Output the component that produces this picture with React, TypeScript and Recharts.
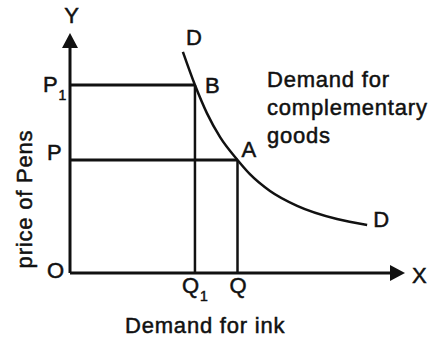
import { LineChart, Line, XAxis, YAxis, ReferenceLine, ReferenceDot } from "recharts";

// demand curve DD for ink vs price of pens
const demandX = [3.37, 3.73, 4.09, 4.48, 5.0, 5.37, 5.97, 6.78, 7.97, 8.87];
const demandY = [9.21, 7.83, 6.65, 5.66, 4.71, 4.12, 3.42, 2.8, 2.25, 2.0];

// Q1, Q on the x axis / P1, P on the y axis
const qtyMarks = [3.73, 5.0];
const priceMarks = [7.83, 4.71];
const axisMax = 10;

const data = demandX.map((x, i) => ({ x, y: demandY[i] }));

const FONT = "'Liberation Sans', Arial, sans-serif";
const textStyle = {
  fontFamily: FONT,
  fontSize: 22,
  letterSpacing: 0.8,
  fill: "#111",
  stroke: "#111",
  strokeWidth: 0.5,
};

const label =
  (content: any, dx: number, dy: number, anchor: string = "start") =>
  (props: any) => (
    <text x={props.cx + dx} y={props.cy + dy} textAnchor={anchor} {...textStyle}>
      {content}
    </text>
  );

const sub = (letter: string, n: string) => (
  <>
    {letter}
    <tspan fontSize={14} dy={8}>
      {n}
    </tspan>
  </>
);

const arrowUp = (props: any) => (
  <polygon
    points={`${props.cx},${props.cy} ${props.cx - 8},${props.cy + 15} ${props.cx + 8},${props.cy + 15}`}
    fill="#111"
  />
);

const arrowRight = (props: any) => (
  <polygon
    points={`${props.cx},${props.cy} ${props.cx - 15},${props.cy - 8} ${props.cx - 15},${props.cy + 8}`}
    fill="#111"
  />
);

export default function App() {
  const [q1, q] = qtyMarks;
  const [p1, p] = priceMarks;
  return (
    <div style={{ position: "absolute", left: 0, top: 0, width: 440, height: 345, background: "#fff" }}>
      <LineChart width={440} height={345} data={data} margin={{ top: 33, right: 35, bottom: 72, left: 70 }}>
        <XAxis dataKey="x" type="number" domain={[0, axisMax]} hide />
        <YAxis type="number" domain={[0, axisMax]} hide />

        {/* axes */}
        <ReferenceLine segment={[{ x: 0, y: 0 }, { x: 9.6, y: 0 }]} stroke="#111" strokeWidth={3} ifOverflow="visible" />
        <ReferenceLine segment={[{ x: 0, y: 0 }, { x: 0, y: 9.4 }]} stroke="#111" strokeWidth={3} ifOverflow="visible" />
        <ReferenceDot x={axisMax} y={0} shape={arrowRight} ifOverflow="visible" />
        <ReferenceDot x={0} y={axisMax} shape={arrowUp} ifOverflow="visible" />

        {/* price / quantity guides */}
        <ReferenceLine segment={[{ x: 0, y: p1 }, { x: q1, y: p1 }]} stroke="#111" strokeWidth={3} />
        <ReferenceLine segment={[{ x: q1, y: 0 }, { x: q1, y: p1 }]} stroke="#111" strokeWidth={2.5} />
        <ReferenceLine segment={[{ x: 0, y: p }, { x: q, y: p }]} stroke="#111" strokeWidth={3} />
        <ReferenceLine segment={[{ x: q, y: 0 }, { x: q, y: p }]} stroke="#111" strokeWidth={2.5} />

        <Line
          dataKey="y"
          type="monotone"
          stroke="#111"
          strokeWidth={2.5}
          dot={false}
          isAnimationActive={false}
        />

        {/* text */}
        <ReferenceDot x={0} y={axisMax} shape={label("Y", 2, -10, "middle")} ifOverflow="visible" />
        <ReferenceDot x={axisMax} y={0} shape={label("X", 7, 10)} ifOverflow="visible" />
        <ReferenceDot x={0} y={0} shape={label("O", -23, 5)} ifOverflow="visible" />
        <ReferenceDot x={0} y={p1} shape={label(sub("P", "1"), -27, 7)} ifOverflow="visible" />
        <ReferenceDot x={0} y={p} shape={label("P", -23, 0)} ifOverflow="visible" />
        <ReferenceDot x={q1} y={0} shape={label(sub("Q", "1"), -13, 20)} ifOverflow="visible" />
        <ReferenceDot x={q} y={0} shape={label("Q", 1, 20, "middle")} ifOverflow="visible" />
        <ReferenceDot x={q1} y={p1} shape={label("B", 10, 8)} ifOverflow="visible" />
        <ReferenceDot x={q} y={p} shape={label("A", 4, -3)} ifOverflow="visible" />
        <ReferenceDot x={demandX[0]} y={demandY[0]} shape={label("D", 3, -7)} ifOverflow="visible" />
        <ReferenceDot
          x={demandX[demandX.length - 1]}
          y={demandY[demandY.length - 1]}
          shape={label("D", 6, 2)}
          ifOverflow="visible"
        />
        <ReferenceDot
          x={q1}
          y={p1}
          shape={(props: any) => (
            <text x={props.cx + 72} y={props.cy + 2} {...textStyle}>
              <tspan x={props.cx + 72}>Demand for</tspan>
              <tspan x={props.cx + 72} dy={28}>complementary</tspan>
              <tspan x={props.cx + 72} dy={28}>goods</tspan>
            </text>
          )}
          ifOverflow="visible"
        />
        <ReferenceDot x={0} y={0} shape={label("Demand for ink", 55, 60)} ifOverflow="visible" />
        <ReferenceDot
          x={0}
          y={0}
          shape={(props: any) => (
            <text
              x={props.cx - 38}
              y={props.cy - 74}
              textAnchor="middle"
              transform={`rotate(-90, ${props.cx - 38}, ${props.cy - 74})`}
              {...textStyle}
            >
              price of Pens
            </text>
          )}
          ifOverflow="visible"
        />
      </LineChart>
    </div>
  );
}
